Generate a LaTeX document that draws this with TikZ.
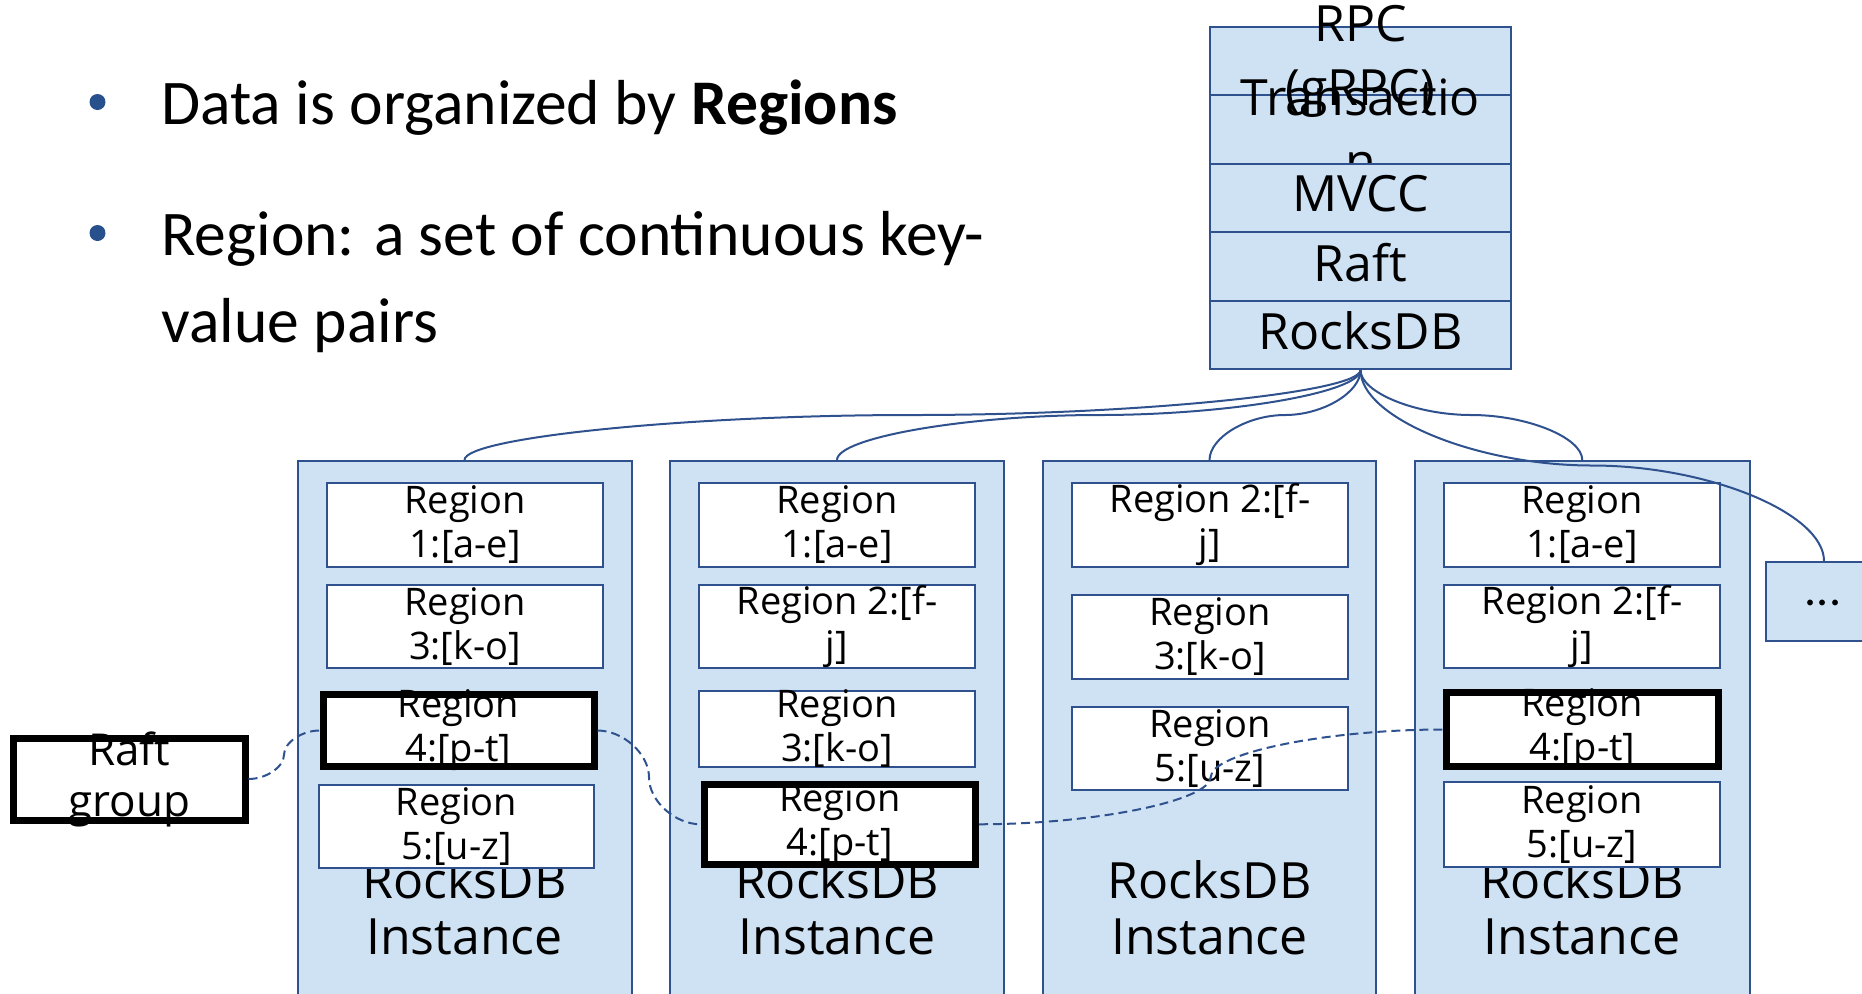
\documentclass[tikz,border=0pt]{standalone}
\usepackage{fontspec}
\setmainfont{Carlito}
\newfontfamily\handfont{Open Sans}
\usetikzlibrary{calc,fit}
\definecolor{lblue}{RGB}{207,226,243}
\definecolor{dblue}{RGB}{47,82,143}
\definecolor{bullblue}{RGB}{40,80,140}
\newcommand\fanlink[3]{%
  \coordinate (#3) at ($(#1)!0.5!(#2)$);
  \draw[fan] (#1) .. controls ($(#1)!0.25!(#1|-#2)$) and ($(#1|-#3)!0.5!(#3)$) .. (#3)
    .. controls ($(#3)!0.5!(#2|-#3)$) and ($(#1-|#2)!0.75!(#2)$) .. (#2);}
\newcommand\dashlink[3]{%
  \coordinate (#3) at ($(#1)!0.5!(#2)$);
  \draw[raftlink] (#1) .. controls ($(#1)!0.25!(#1-|#2)$) and ($(#3|-#1)!0.5!(#3)$) .. (#3)
    .. controls ($(#3)!0.5!(#3|-#2)$) and ($(#1|-#2)!0.75!(#2)$) .. (#2);}
\begin{document}
\begin{tikzpicture}[x=0.5pt,y=-0.5pt,
  inst/.style={draw=dblue, line width=1pt, fill=lblue, inner sep=0pt},
  regbox/.style={draw=dblue, line width=1pt, fill=white, inner sep=0pt},
  thickbox/.style={draw=black, line width=3.5pt, fill=white, inner sep=0pt},
  layer/.style={draw=dblue, line width=1pt, fill=lblue, inner sep=0pt},
  rtext/.style={font=\handfont\fontsize{19}{22}\selectfont, align=center, inner sep=0pt},
  btext/.style={font=\handfont\fontsize{25}{28}\selectfont, align=center, inner sep=0pt},
  stext/.style={font=\handfont\fontsize{25}{32}\selectfont, align=center, inner sep=0pt},
  ltext/.style={font=\handfont\fontsize{25}{30}\selectfont, inner sep=0pt, yshift=2pt},
  gtext/.style={font=\handfont\fontsize{22}{25.5}\selectfont, align=center, inner sep=0pt},
  fan/.style={draw=dblue, line width=1pt},
  raftlink/.style={draw=dblue, line width=1pt, dash pattern=on 4.5pt off 2.5pt},
  bul/.style={font=\fontsize{31.8}{44}\selectfont, anchor=base west, inner sep=0pt},
  bulletdot/.style={circle, fill=bullblue, draw=none, minimum size=8pt, inner sep=0pt}]
\useasboundingbox (0,0) rectangle (1862,993);
\clip (0,0) rectangle (1862,993);

% bullets
\node[bulletdot] (bul1) at (97.5,102) {};
\node[bulletdot] (bul2) at (97.5,233) {};
\node[bul] (t1) at (161,124) {Data is organized by \textbf{Regions}};
\node[bul] (t2) at (161,255) {Region: a set of continuous key-};
\node[bul] (t2b) at (161,342.7) {value pairs};

% instances
\node[inst, fit={(297.5,461) (631.5,1010)}] (i1) {};
\node[btext] (i1t) at (464.5,908) {RocksDB\\Instance};
\node[inst, fit={(670,461) (1004,1010)}] (i2) {};
\node[btext] (i2t) at (837,908) {RocksDB\\Instance};
\node[inst, fit={(1043,461) (1376,1010)}] (i3) {};
\node[btext] (i3t) at (1209.5,908) {RocksDB\\Instance};
\node[inst, fit={(1415,461) (1749.5,1010)}] (i4) {};
\node[btext] (i4t) at (1582,908) {RocksDB\\Instance};

% regions instance 1
\node[regbox, fit={(327,483) (603,567)}] (a1) {};
\node[rtext] at (a1) {Region\\1:[a-e]};
\node[regbox, fit={(327,585) (603,668)}] (a3) {};
\node[rtext] at (a3) {Region\\3:[k-o]};
\node[thickbox, fit={(323,694.5) (594,766.5)}] (a4) {};
\node[rtext] at (a4) {Region\\4:[p-t]};
\node[regbox, fit={(319,785) (594,868)}] (a5) {};
\node[rtext] at (a5) {Region\\5:[u-z]};

% regions instance 2
\node[regbox, fit={(699,483) (975,567)}] (b1) {};
\node[rtext] at (b1) {Region\\1:[a-e]};
\node[regbox, fit={(699,585) (975,668)}] (b2) {};
\node[rtext] at (b2) {Region 2:[f-\\j]};
\node[regbox, fit={(699,691) (975,767)}] (b3) {};
\node[rtext] at (b3) {Region\\3:[k-o]};
\node[thickbox, fit={(704,784) (975.5,864.5)}] (b4) {};
\node[rtext] at (b4) {Region\\4:[p-t]};

% regions instance 3
\node[regbox, fit={(1072,483) (1348,567)}] (c2) {};
\node[rtext] at (c2) {Region 2:[f-\\j]};
\node[regbox, fit={(1072,595) (1348,679)}] (c3) {};
\node[rtext] at (c3) {Region\\3:[k-o]};
\node[regbox, fit={(1072,707) (1348,790)}] (c5) {};
\node[rtext] at (c5) {Region\\5:[u-z]};

% regions instance 4
\node[regbox, fit={(1444,483) (1720,567)}] (d1) {};
\node[rtext] at (d1) {Region\\1:[a-e]};
\node[regbox, fit={(1444,585) (1720,668)}] (d2) {};
\node[rtext] at (d2) {Region 2:[f-\\j]};
\node[thickbox, fit={(1446,692.5) (1718.5,766.5)}] (d4) {};
\node[rtext] at (d4) {Region\\4:[p-t]};
\node[regbox, fit={(1444,782) (1720,867)}] (d5) {};
\node[rtext] at (d5) {Region\\5:[u-z]};

% stack
\node[layer, fit={(1210,27) (1511,95)}] (rpc) {};
\node[layer, fit={(1210,95) (1511,164)}] (txn) {};
\node[stext] (rpct) at (rpc) {RPC\\(gRPC)};
\node[stext] (txnt) at (txn) {Transactio\\n};
\node[layer, fit={(1210,164) (1511,232)}] (mvcc) {};
\node[ltext] at (mvcc) {MVCC};
\node[layer, fit={(1210,232) (1511,301)}] (raft) {};
\node[ltext] at (raft) {Raft};
\node[layer, fit={(1210,301) (1511,369)}] (rdb) {};
\node[ltext] at (rdb) {RocksDB};

% raft group and more
\node[thickbox, fit={(13.5,738) (245,820)}] (rg) {};
\node[gtext] at (rg) {Raft\\group};
\node[layer, fit={(1766,562) (1882,641)}] (more) {};
\node[font=\fontsize{24}{28}\selectfont, inner sep=0pt] at (1823,603) {...};

% connectors
\fanlink{rdb.south}{i1.north}{m1}
\fanlink{rdb.south}{i2.north}{m2}
\fanlink{rdb.south}{i3.north}{m3}
\fanlink{rdb.south}{i4.north}{m4}
\fanlink{rdb.south}{more.north}{m5}
\dashlink{rg.east}{a4.west}{n1}
\dashlink{a4.east}{b4.west}{n2}
\dashlink{b4.east}{d4.west}{n3}
\end{tikzpicture}
\end{document}
